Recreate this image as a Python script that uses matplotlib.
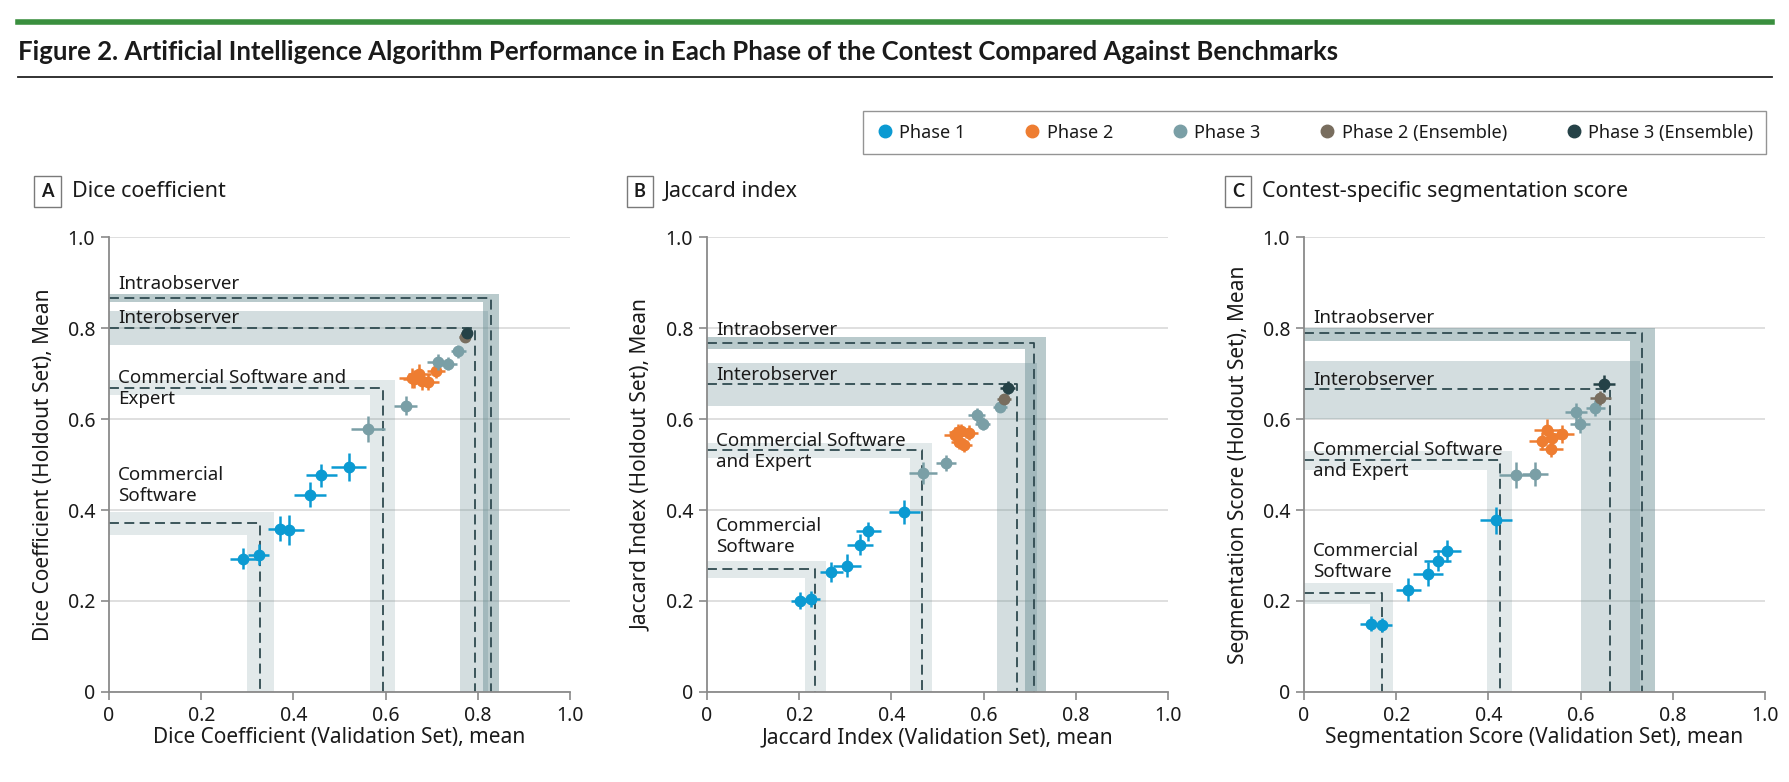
import matplotlib
matplotlib.use("Agg")
import matplotlib.pyplot as plt
from matplotlib.lines import Line2D
from matplotlib.patches import Polygon

plt.rcParams['font.family'] = ['Noto Sans', 'DejaVu Sans']

# - - - - legend / phases - - -
phases = ["Phase 1", "Phase 2", "Phase 3", "Phase 2 (Ensemble)", "Phase 3 (Ensemble)"]
phase_colors = ["#0b9ad2", "#ee7d31", "#7a9fa6", "#786d5e", "#254247"]

bench_names = ["Commercial\nSoftware", "Commercial Software and\nExpert",
               "Interobserver", "Intraobserver"]
bench_names_bc = ["Commercial\nSoftware", "Commercial Software\nand Expert",
                  "Interobserver", "Intraobserver"]

# - - - - A: Dice coefficient - - -
dice_bx = [0.328, 0.594, 0.795, 0.828]
dice_bx_lo = [0.300, 0.567, 0.762, 0.812]
dice_bx_hi = [0.358, 0.620, 0.822, 0.846]
dice_by = [0.371, 0.669, 0.800, 0.867]
dice_by_lo = [0.346, 0.653, 0.763, 0.858]
dice_by_hi = [0.396, 0.686, 0.838, 0.875]

dice_p1_x = [0.291, 0.325, 0.371, 0.391, 0.436, 0.461, 0.520]
dice_p1_y = [0.293, 0.302, 0.359, 0.356, 0.434, 0.476, 0.494]
dice_p1_xerr = [0.029, 0.023, 0.025, 0.031, 0.034, 0.033, 0.038]
dice_p1_yerr = [0.023, 0.023, 0.027, 0.032, 0.027, 0.025, 0.031]
dice_p2_x = [0.658, 0.662, 0.673, 0.678, 0.691, 0.709]
dice_p2_y = [0.690, 0.688, 0.700, 0.683, 0.681, 0.706]
dice_p2_xerr = [0.028, 0.024, 0.025, 0.024, 0.025, 0.020]
dice_p2_yerr = [0.022, 0.020, 0.022, 0.020, 0.018, 0.016]
dice_p3_x = [0.561, 0.644, 0.713, 0.736, 0.758]
dice_p3_y = [0.578, 0.629, 0.725, 0.722, 0.749]
dice_p3_xerr = [0.037, 0.025, 0.024, 0.018, 0.016]
dice_p3_yerr = [0.029, 0.021, 0.018, 0.015, 0.014]
dice_e2_x, dice_e2_y, dice_e2_xerr, dice_e2_yerr = [0.772], [0.781], [0.012], [0.010]
dice_e3_x, dice_e3_y, dice_e3_xerr, dice_e3_yerr = [0.776], [0.788], [0.012], [0.010]

# - - - - B: Jaccard index - - -
jac_bx = [0.235, 0.466, 0.672, 0.710]
jac_bx_lo = [0.213, 0.440, 0.628, 0.690]
jac_bx_hi = [0.258, 0.489, 0.715, 0.735]
jac_by = [0.270, 0.531, 0.678, 0.767]
jac_by_lo = [0.251, 0.514, 0.629, 0.754]
jac_by_hi = [0.289, 0.547, 0.724, 0.780]

jac_p1_x = [0.202, 0.226, 0.270, 0.304, 0.332, 0.350, 0.428]
jac_p1_y = [0.201, 0.204, 0.263, 0.278, 0.324, 0.353, 0.396]
jac_p1_xerr = [0.020, 0.018, 0.025, 0.030, 0.029, 0.027, 0.033]
jac_p1_yerr = [0.018, 0.018, 0.022, 0.026, 0.023, 0.021, 0.027]
jac_p2_x = [0.537, 0.545, 0.552, 0.568, 0.547, 0.557]
jac_p2_y = [0.565, 0.572, 0.573, 0.570, 0.550, 0.543]
jac_p2_xerr = [0.022, 0.020, 0.020, 0.020, 0.018, 0.018]
jac_p2_yerr = [0.018, 0.016, 0.016, 0.016, 0.015, 0.015]
jac_p3_x = [0.468, 0.518, 0.585, 0.598, 0.635]
jac_p3_y = [0.481, 0.503, 0.608, 0.590, 0.627]
jac_p3_xerr = [0.030, 0.022, 0.018, 0.016, 0.015]
jac_p3_yerr = [0.024, 0.018, 0.016, 0.014, 0.012]
jac_e2_x, jac_e2_y, jac_e2_xerr, jac_e2_yerr = [0.645], [0.644], [0.015], [0.012]
jac_e3_x, jac_e3_y, jac_e3_xerr, jac_e3_yerr = [0.652], [0.669], [0.016], [0.014]

# - - - - C: segmentation score - - -
seg_bx = [0.169, 0.425, 0.664, 0.734]
seg_bx_lo = [0.143, 0.397, 0.601, 0.708]
seg_bx_hi = [0.194, 0.452, 0.728, 0.761]
seg_by = [0.218, 0.510, 0.666, 0.788]
seg_by_lo = [0.194, 0.489, 0.600, 0.772]
seg_by_hi = [0.240, 0.529, 0.728, 0.801]

seg_p1_x = [0.145, 0.169, 0.226, 0.269, 0.290, 0.310, 0.417]
seg_p1_y = [0.150, 0.147, 0.225, 0.259, 0.289, 0.309, 0.377]
seg_p1_xerr = [0.023, 0.021, 0.027, 0.033, 0.029, 0.030, 0.035]
seg_p1_yerr = [0.016, 0.016, 0.025, 0.027, 0.024, 0.024, 0.029]
seg_p2_x = [0.516, 0.527, 0.539, 0.560, 0.535]
seg_p2_y = [0.552, 0.575, 0.558, 0.567, 0.534]
seg_p2_xerr = [0.027, 0.029, 0.025, 0.025, 0.026]
seg_p2_yerr = [0.020, 0.024, 0.020, 0.020, 0.018]
seg_p3_x = [0.459, 0.502, 0.590, 0.598, 0.632]
seg_p3_y = [0.477, 0.479, 0.615, 0.588, 0.624]
seg_p3_xerr = [0.035, 0.028, 0.024, 0.022, 0.021]
seg_p3_yerr = [0.028, 0.026, 0.020, 0.018, 0.018]
seg_e2_x, seg_e2_y, seg_e2_xerr, seg_e2_yerr = [0.643], [0.646], [0.022], [0.015]
seg_e3_x, seg_e3_y, seg_e3_xerr, seg_e3_yerr = [0.651], [0.678], [0.024], [0.018]

# label baselines (last line) for each benchmark, per panel
dice_label_y = [0.420, 0.633, 0.812, 0.886]
jac_label_y = [0.308, 0.495, 0.686, 0.785]
seg_label_y = [0.253, 0.475, 0.675, 0.811]

band_color = "#6e9196"
band_alpha = [0.2, 0.2, 0.3, 0.48]
dash_color = "#2f4a50"
grid_color = "#dcdcdc"
spine_color = "#8a8a8a"
text_color = "#1a1a1a"


def draw_panel(ax, bench, points, names, label_y, xlabel, ylabel):
    bx, bxlo, bxhi, by, bylo, byhi = bench
    for i in range(len(bx)):
        # L-shaped band: horizontal band (holdout) + vertical band (validation)
        verts = [(0, bylo[i]), (bxlo[i], bylo[i]), (bxlo[i], 0), (bxhi[i], 0),
                 (bxhi[i], byhi[i]), (0, byhi[i])]
        ax.add_patch(Polygon(verts, closed=True, facecolor=band_color,
                             alpha=band_alpha[i], edgecolor='none', zorder=1))
        ax.plot([0, bx[i], bx[i]], [by[i], by[i], 0], color=dash_color,
                lw=1.3, dashes=(5.5, 3), zorder=2)
        ax.text(0.02, label_y[i], names[i], fontsize=13.5, va='baseline',
                ha='left', linespacing=1.2, color=text_color, zorder=4)

    for k, (x, y, xe, ye) in enumerate(points):
        ax.errorbar(x, y, xerr=xe, yerr=ye, fmt='o', color=phase_colors[k],
                    ms=7.5, elinewidth=1.8, capsize=0, zorder=5 + k)

    ax.set_xlim(0, 1)
    ax.set_ylim(0, 1)
    ticks = [0, 0.2, 0.4, 0.6, 0.8, 1.0]
    ticklabels = ['0', '0.2', '0.4', '0.6', '0.8', '1.0']
    ax.set_xticks(ticks)
    ax.set_xticklabels(ticklabels)
    ax.set_yticks(ticks)
    ax.set_yticklabels(ticklabels)
    ax.yaxis.grid(True, color=grid_color, lw=1.3, zorder=0)
    ax.set_axisbelow(True)
    for s in ['top', 'right']:
        ax.spines[s].set_visible(False)
    for s in ['left', 'bottom']:
        ax.spines[s].set_color(spine_color)
        ax.spines[s].set_linewidth(1.3)
    ax.tick_params(axis='both', length=6, width=1.2, color=spine_color,
                   labelsize=14, labelcolor=text_color, pad=4)
    ax.set_xlabel(xlabel, fontsize=15, labelpad=1, color=text_color)
    ax.set_ylabel(ylabel, fontsize=15, labelpad=10, color=text_color)


def panel_header(fig, x, y, letter, text):
    fig.text(x, y, letter, fontsize=13, fontweight='bold', ha='center',
             va='center', color=text_color, family=['Lato', 'DejaVu Sans'],
             bbox=dict(boxstyle='square,pad=0.4', fc='white', ec='#7a7a7a', lw=1.0))
    fig.text(x + 0.0135, y, text, fontsize=15.5, ha='left', va='center',
             color=text_color)


def main():
    fig = plt.figure(figsize=(17.9, 7.82), dpi=100)

    fig.add_artist(Line2D([0.010, 0.990], [0.972, 0.972], color='#3a8f3e', lw=4))
    fig.text(0.010, 0.933, "Figure 2. Artificial Intelligence Algorithm Performance in "
             "Each Phase of the Contest Compared Against Benchmarks",
             fontsize=18.5, fontweight='bold', ha='left', va='center',
             family=['Lato', 'DejaVu Sans'], color=text_color)
    fig.add_artist(Line2D([0.010, 0.990], [0.902, 0.902], color='#222222', lw=1.3))

    panels = [
        ((dice_bx, dice_bx_lo, dice_bx_hi, dice_by, dice_by_lo, dice_by_hi),
         [(dice_p1_x, dice_p1_y, dice_p1_xerr, dice_p1_yerr),
          (dice_p2_x, dice_p2_y, dice_p2_xerr, dice_p2_yerr),
          (dice_p3_x, dice_p3_y, dice_p3_xerr, dice_p3_yerr),
          (dice_e2_x, dice_e2_y, dice_e2_xerr, dice_e2_yerr),
          (dice_e3_x, dice_e3_y, dice_e3_xerr, dice_e3_yerr)],
         bench_names, dice_label_y,
         "Dice Coefficient (Validation Set), mean", "Dice Coefficient (Holdout Set), Mean"),
        ((jac_bx, jac_bx_lo, jac_bx_hi, jac_by, jac_by_lo, jac_by_hi),
         [(jac_p1_x, jac_p1_y, jac_p1_xerr, jac_p1_yerr),
          (jac_p2_x, jac_p2_y, jac_p2_xerr, jac_p2_yerr),
          (jac_p3_x, jac_p3_y, jac_p3_xerr, jac_p3_yerr),
          (jac_e2_x, jac_e2_y, jac_e2_xerr, jac_e2_yerr),
          (jac_e3_x, jac_e3_y, jac_e3_xerr, jac_e3_yerr)],
         bench_names_bc, jac_label_y,
         "Jaccard Index (Validation Set), mean", "Jaccard Index (Holdout Set), Mean"),
        ((seg_bx, seg_bx_lo, seg_bx_hi, seg_by, seg_by_lo, seg_by_hi),
         [(seg_p1_x, seg_p1_y, seg_p1_xerr, seg_p1_yerr),
          (seg_p2_x, seg_p2_y, seg_p2_xerr, seg_p2_yerr),
          (seg_p3_x, seg_p3_y, seg_p3_xerr, seg_p3_yerr),
          (seg_e2_x, seg_e2_y, seg_e2_xerr, seg_e2_yerr),
          (seg_e3_x, seg_e3_y, seg_e3_xerr, seg_e3_yerr)],
         bench_names_bc, seg_label_y,
         "Segmentation Score (Validation Set), mean", "Segmentation Score (Holdout Set), Mean"),
    ]
    lefts = [0.0609, 0.395, 0.7285]
    for left, (bench, pts, names, ly, xl, yl) in zip(lefts, panels):
        ax = fig.add_axes([left, 0.1151, 0.2575, 0.5818])
        draw_panel(ax, bench, pts, names, ly, xl, yl)

    panel_header(fig, 0.0265, 0.755, "A", "Dice coefficient")
    panel_header(fig, 0.3575, 0.755, "B", "Jaccard index")
    panel_header(fig, 0.6915, 0.755, "C", "Contest-specific segmentation score")

    handles = [Line2D([], [], marker='o', ls='none', ms=9, color=c) for c in phase_colors]
    leg = fig.legend(handles, phases, loc='upper right', bbox_to_anchor=(0.9866, 0.858),
                     ncol=5, frameon=True, fancybox=False, fontsize=13,
                     handletextpad=0.3, columnspacing=3.2, borderpad=0.7,
                     handlelength=1.0, borderaxespad=0)
    for t in leg.get_texts():
        t.set_color(text_color)
    leg.get_frame().set_edgecolor('#7a7a7a')
    leg.get_frame().set_linewidth(1.0)

    plt.savefig("out.png", dpi=100)


if __name__ == '__main__':
    main()
